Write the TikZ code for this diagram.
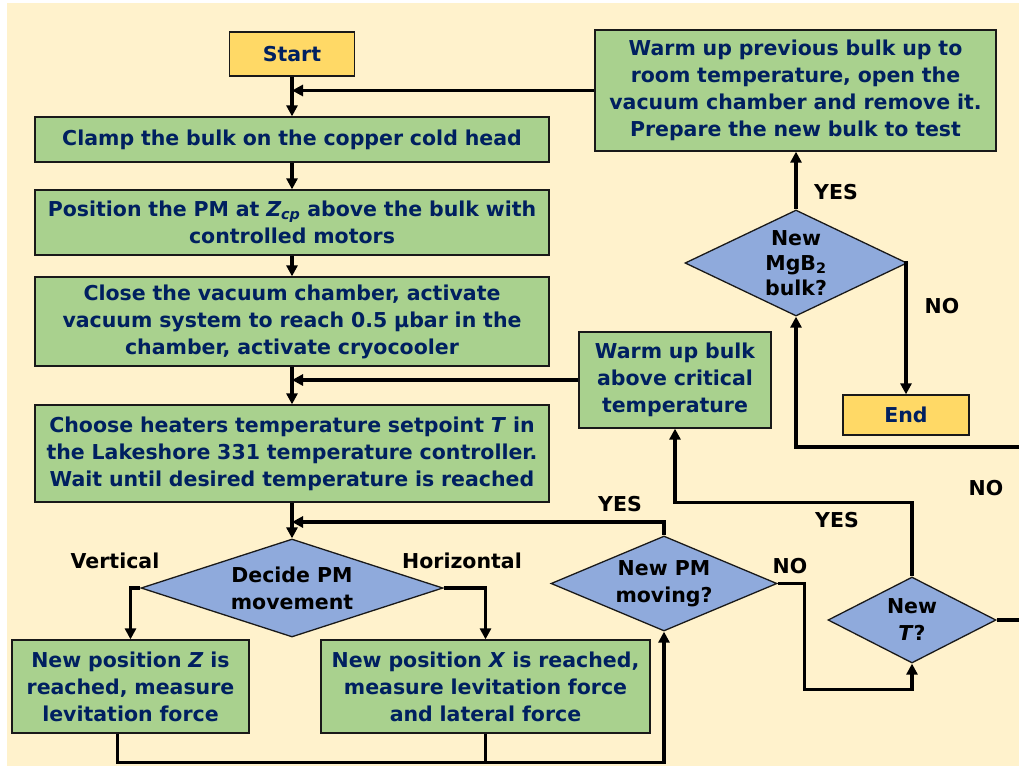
\documentclass[tikz,border=0pt]{standalone}
\usepackage{fontspec}
\setmainfont{DejaVu Sans}
\usetikzlibrary{shapes.geometric,arrows.meta}
\definecolor{cream}{RGB}{255,242,204}
\definecolor{leaf}{RGB}{169,209,142}
\definecolor{sky}{RGB}{143,170,220}
\definecolor{sun}{RGB}{255,217,102}
\definecolor{navy}{RGB}{0,32,96}

\begin{document}
\begin{tikzpicture}
  [x=1pt,y=-1pt,
   every node/.style={font=\bfseries\fontsize{20.5}{27}\selectfont,align=center},
   procbox/.style={draw=black!90,line width=1.3pt,fill=leaf,text=navy,inner sep=4pt},
   termbox/.style={procbox,fill=sun},
   decision/.style={diamond,draw=black!90,line width=1.3pt,fill=sky,inner sep=0pt,text=black},
   flow/.style={line width=3.3pt,-{Triangle[length=11pt,width=11pt]}},
   tag/.style={text=black}]
  \useasboundingbox (0,0) rectangle (1019,769);
  \fill[white] (0,0) rectangle (1019,769);
  \fill[cream] (7,3) rectangle (1019,766);
  \clip (0,0) rectangle (1019,769);

  % main column
  \node[termbox,minimum width=125,minimum height=44] (start) at (292,54) {Start};
  \node[procbox,minimum width=514,minimum height=45,text width=506] (clamp) at (292,139.5)
    {Clamp the bulk on the copper cold head};
  \node[procbox,minimum width=514,minimum height=65,text width=506] (posit) at (292,222.5)
    {Position the PM at \textit{Z\textsubscript{cp}} above the bulk with\\controlled motors};
  \node[procbox,minimum width=514,minimum height=89,text width=506] (close) at (292,321.5)
    {Close the vacuum chamber, activate\\vacuum system to reach 0.5 µbar in the\\chamber, activate cryocooler};
  \node[procbox,minimum width=514,minimum height=97,text width=506] (choose) at (292,453.5)
    {Choose heaters temperature setpoint \textit{T} in\\the Lakeshore 331 temperature controller.\\Wait until desired temperature is reached};
  \node[decision,aspect=3.08,minimum width=302,minimum height=98] (decide) at (292,588) {Decide PM\\movement};
  \node[procbox,minimum width=237,minimum height=93,text width=229] (newz) at (130.5,686.5)
    {New position \textit{Z} is\\reached, measure\\levitation force};
  \node[procbox,minimum width=329,minimum height=93,text width=321] (newx) at (485.5,686.5)
    {New position \textit{X} is reached,\\measure levitation force\\and lateral force};

  % right side
  \node[decision,aspect=2.38,minimum width=226,minimum height=95] (pmmove) at (664,583.5) {New PM\\moving?};
  \node[decision,aspect=1.95,minimum width=168,minimum height=86] (newt) at (912,620) {New\\\textit{T}?};
  \node[procbox,minimum width=192,minimum height=96,text width=184] (warmbulk) at (675,380)
    {Warm up bulk\\above critical\\temperature};
  \node[decision,aspect=2.09,minimum width=222,minimum height=106,
    font=\bfseries\fontsize{20.5}{25}\selectfont] (mgb) at (796,263) {New\\MgB\textsubscript{2}\\bulk?};
  \node[termbox,minimum width=126,minimum height=40] (end) at (906,415) {End};
  \node[procbox,minimum width=401,minimum height=121,text width=393] (warmprev) at (795.5,90.5)
    {Warm up previous bulk up to\\room temperature, open the\\vacuum chamber and remove it.\\Prepare the new bulk to test};

  \coordinate (joinpm) at (292,522);
  \coordinate (loopne) at (1040,447);

  % connectors
  \foreach \from/\to in {start/clamp,clamp/posit,posit/close,close/choose,choose/decide}
    \draw[flow] (\from.south) -- (\to.north);
  \draw[flow] (warmprev.west) -- (warmprev.west -| start.south);
  \draw[flow] (warmbulk.west) -- (warmbulk.west -| start.south);
  \draw[flow] (decide.west) -| (newz.north);
  \draw[flow] (decide.east) -| (newx.north);
  \draw[flow] ([xshift=-13pt]newz.south) -- ++(0,29) -| (pmmove.south);
  \draw[flow,-] (newx.south) -- ++(0,29);
  \draw[flow] (pmmove.north) |- (joinpm);
  \draw[flow] (pmmove.east) -- ++(27,0) -- ++(0,106) -| (newt.south);
  \draw[flow] (newt.north) -- ++(0,-74) -| (warmbulk.south);
  \draw[flow] (newt.east) -| (loopne) -| (mgb.south);
  \draw[flow] (mgb.north) -- (mgb.north |- warmprev.south);
  \draw[flow] (mgb.east) -| (end.north);

  % branch labels
  \node[tag] at (836,192) {YES};
  \node[tag] at (942,306) {NO};
  \node[tag] at (986,488) {NO};
  \node[tag] at (837,520) {YES};
  \node[tag] at (620,504) {YES};
  \node[tag] at (790,566) {NO};
  \node[tag] at (115,561) {Vertical};
  \node[tag] at (462,561) {Horizontal};
\end{tikzpicture}
\end{document}
